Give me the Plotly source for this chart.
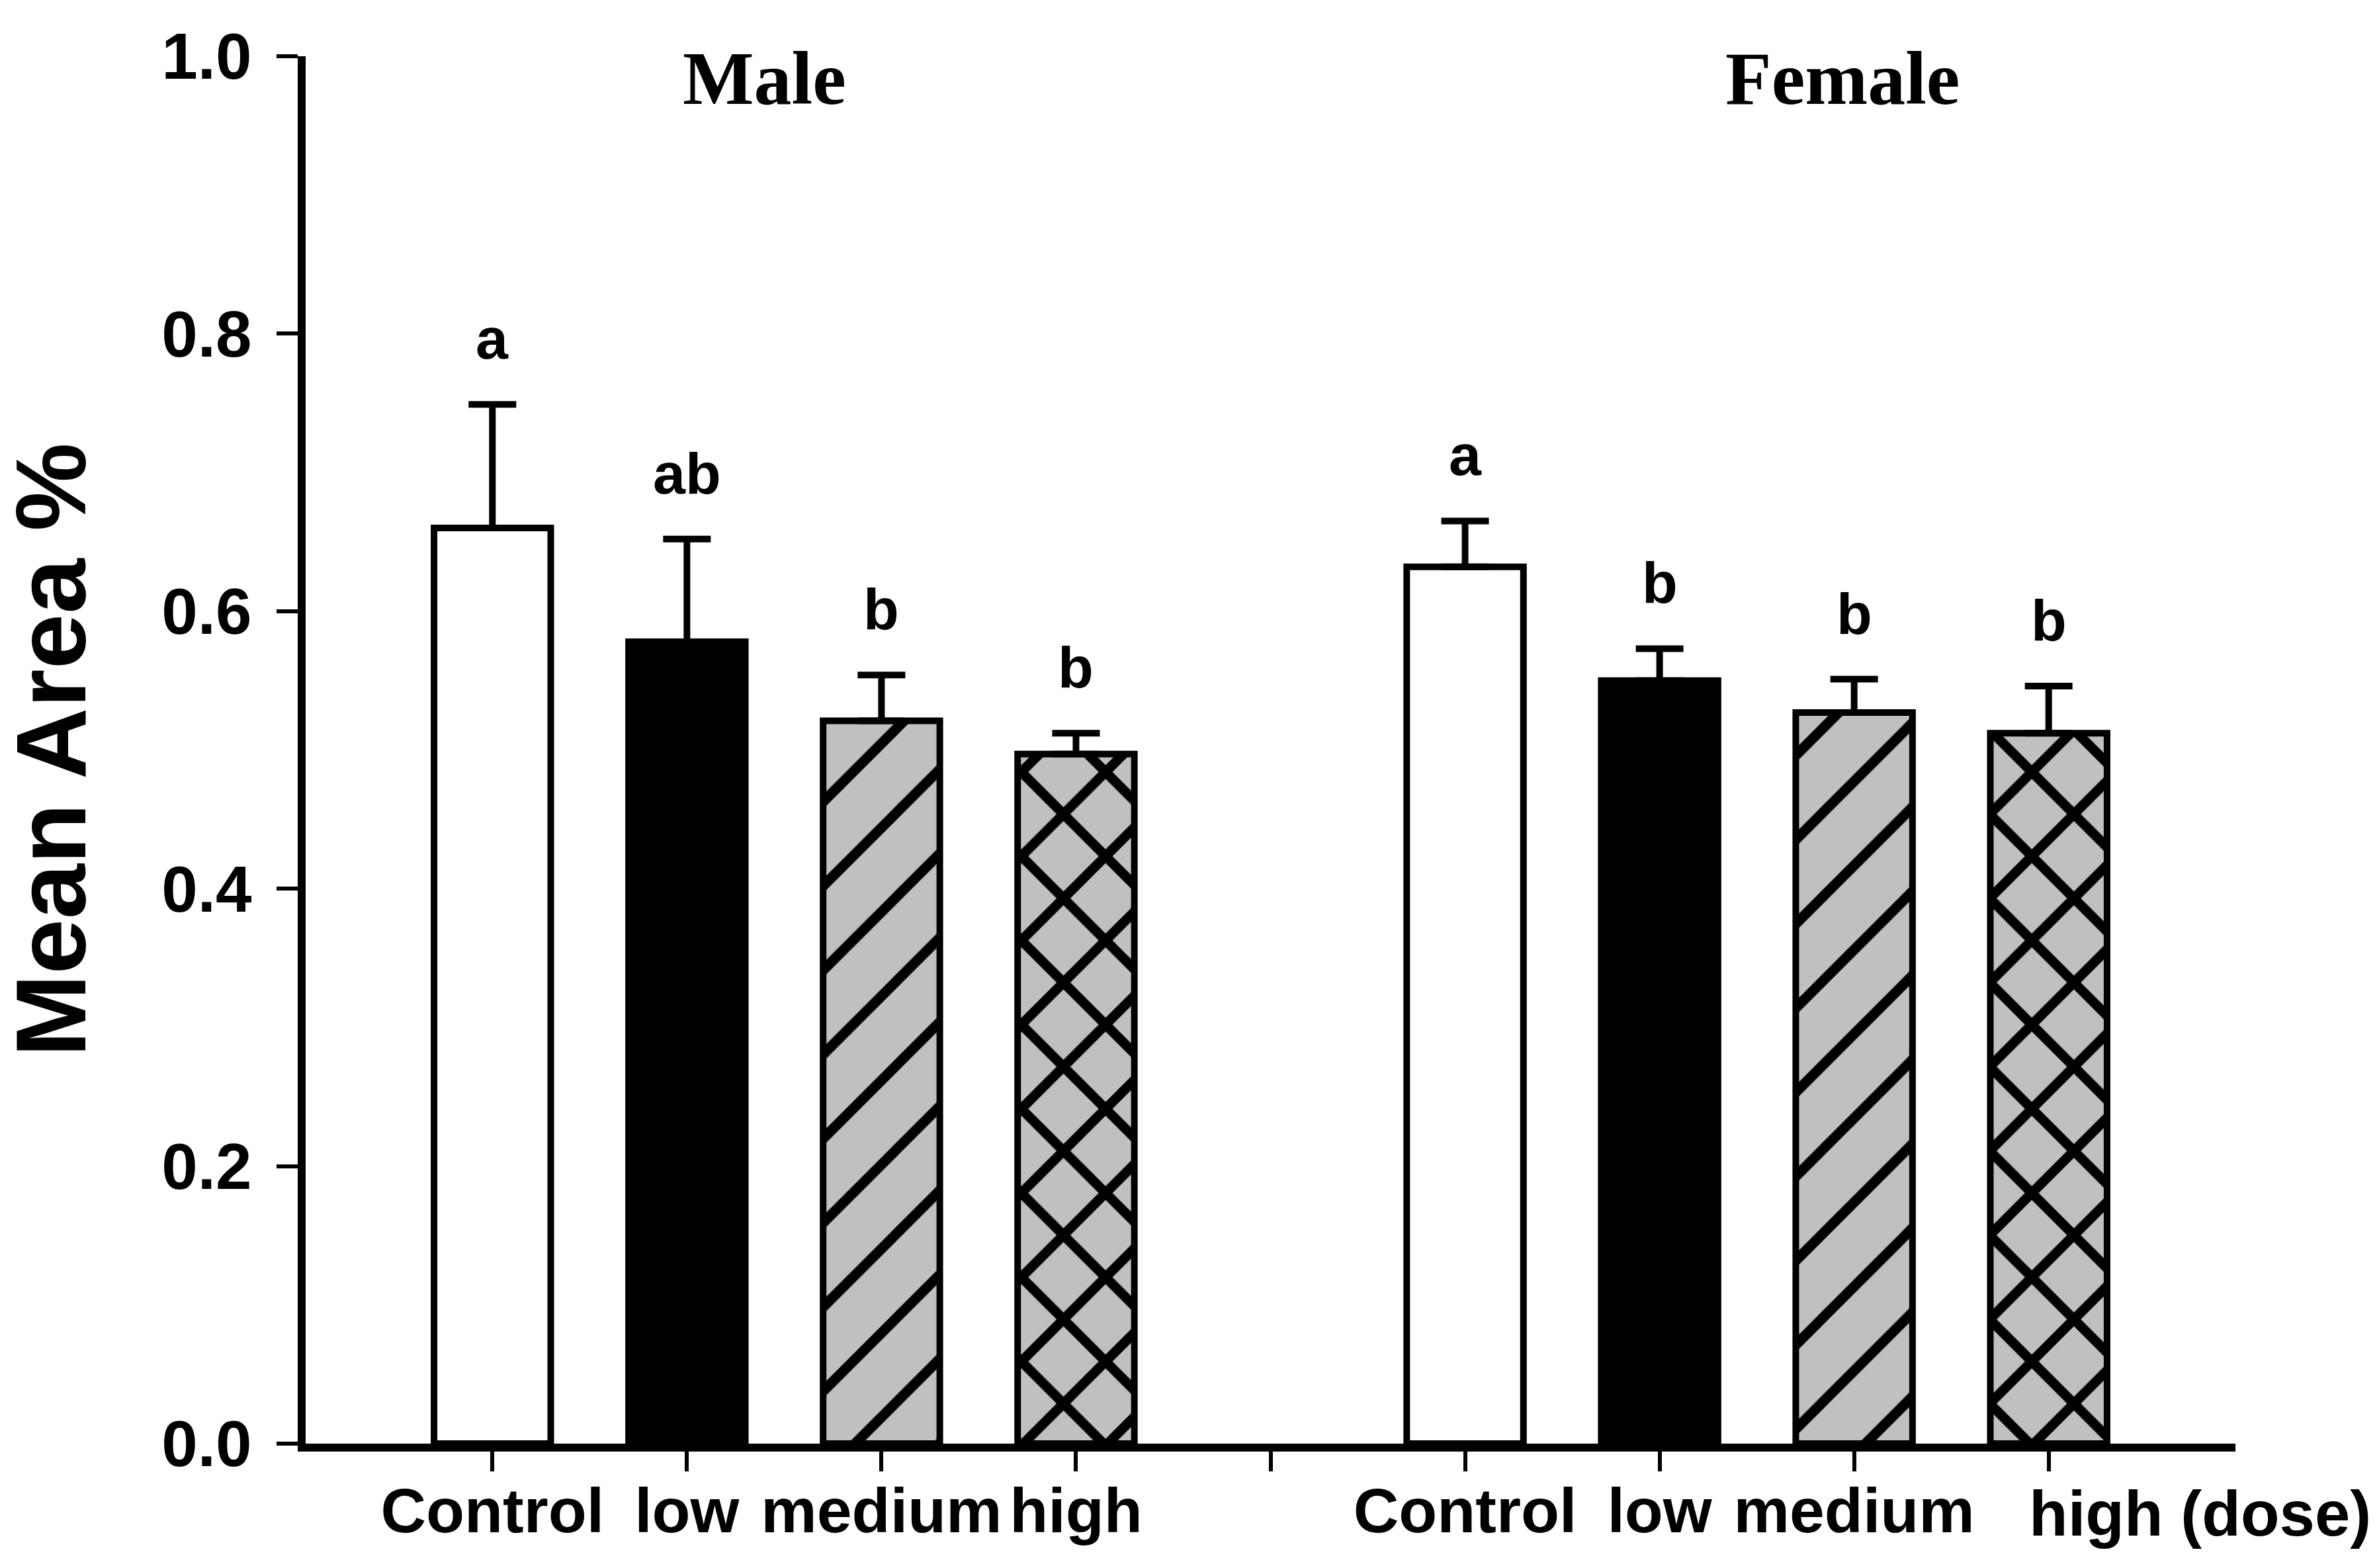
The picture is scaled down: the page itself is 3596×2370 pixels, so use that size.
import plotly.graph_objects as go

# values
doses = ["Control", "low", "medium", "high"]
male_mean = [0.660, 0.578, 0.521, 0.497]
male_err = [0.089, 0.074, 0.033, 0.015]
female_mean = [0.632, 0.550, 0.527, 0.512]
female_err = [0.033, 0.023, 0.024, 0.034]
male_letters = ["a", "ab", "b", "b"]
female_letters = ["a", "b", "b", "b"]
tick_labels = ["Control", "low", "medium", "high", "",
               "Control", "low", "medium", ""]

SANS = "Liberation Sans, Arial, sans-serif"
SERIF = "Liberation Serif, Times New Roman, serif"

# one style per dose: fill, pattern shape
styles = [
    dict(color="white", pattern=dict(shape="")),
    dict(color="black", pattern=dict(shape="")),
    dict(color="#c0c0c0", pattern=dict(shape="/", fgcolor="black", bgcolor="#c0c0c0",
                                       size=90, solidity=0.17, fillmode="replace")),
    dict(color="#c0c0c0", pattern=dict(shape="x", fgcolor="black", bgcolor="#c0c0c0",
                                       size=90, solidity=0.3, fillmode="replace")),
]

fig = go.Figure()
for i, dose in enumerate(doses):
    xs = [1 + i, 6 + i]
    fig.add_trace(go.Bar(
        x=xs,
        y=[male_mean[i], female_mean[i]],
        width=0.6,
        name=dose,
        marker=dict(color=styles[i]["color"], pattern=styles[i]["pattern"],
                    line=dict(color="black", width=10)),
        error_y=dict(type="data", symmetric=False,
                     array=[male_err[i], female_err[i]], arrayminus=[0, 0],
                     color="black", thickness=10, width=36),
    ))
    for x, m, e, lab in [(xs[0], male_mean[i], male_err[i], male_letters[i]),
                         (xs[1], female_mean[i], female_err[i], female_letters[i])]:
        fig.add_annotation(x=x, y=m + e, text=lab, showarrow=False,
                           yanchor="bottom", yshift=48,
                           font=dict(family=SANS, size=88, color="black", weight="bold"))

# group titles
fig.add_annotation(x=2.4, y=0.984, xref="x", yref="paper", text="Male", showarrow=False,
                   yanchor="middle", font=dict(family=SERIF, size=114, color="black", weight="bold"))
fig.add_annotation(x=7.94, y=0.984, xref="x", yref="paper", text="Female", showarrow=False,
                   yanchor="middle", font=dict(family=SERIF, size=114, color="black", weight="bold"))

# last x label runs past the tick
fig.add_annotation(x=9, y=0, xref="x", yref="paper", text="high (dose)", showarrow=False,
                   xanchor="left", xshift=-32, yanchor="top", yshift=-50,
                   font=dict(family=SANS, size=96, color="black", weight="bold"))

# y title
fig.add_annotation(x=0, y=0.5, xref="paper", yref="paper", text="Mean Area %", showarrow=False,
                   textangle=-90, xanchor="center", xshift=-386, height=130, valign="middle",
                   font=dict(family=SANS, size=150, color="black", weight="bold"))

fig.update_layout(
    width=3596, height=2370, autosize=False,
    margin=dict(l=454, r=225, t=77, b=196),
    paper_bgcolor="white", plot_bgcolor="white",
    showlegend=False, barmode="overlay",
    xaxis=dict(range=[0.04, 9.96], showline=True, linecolor="black", linewidth=12,
               ticks="outside", ticklen=30, tickwidth=6, tickcolor="black",
               tickvals=list(range(1, 10)), ticktext=tick_labels,
               ticklabelstandoff=-22,
               showgrid=False, zeroline=False,
               tickfont=dict(family=SANS, size=95, color="black", weight="bold")),
    yaxis=dict(range=[0, 1], showline=True, linecolor="black", linewidth=12,
               ticks="outside", ticklen=32, tickwidth=6, tickcolor="black",
               tick0=0, dtick=0.2, tickformat=".1f", ticklabelstandoff=18,
               showgrid=False, zeroline=False,
               tickfont=dict(family=SANS, size=98, color="black", weight="bold")),
)

fig.write_html("out.html")
